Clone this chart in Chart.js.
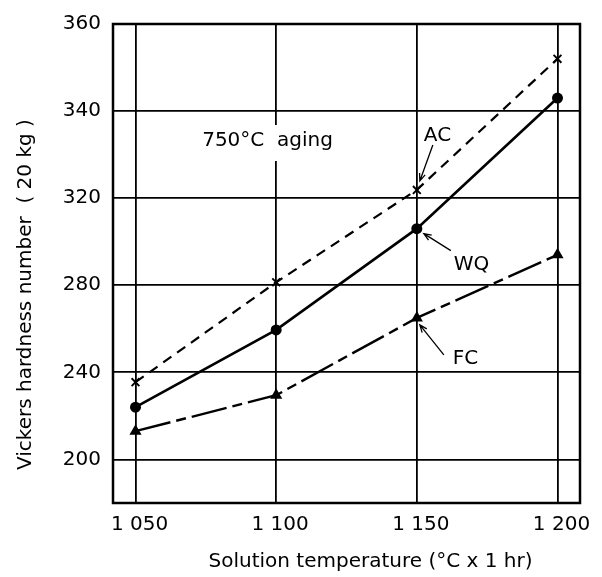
<!DOCTYPE html>
<html>
<head>
<meta charset="utf-8">
<script src="https://cdn.jsdelivr.net/npm/chart.js@4/dist/chart.umd.min.js"></script>
<style>
html,body{margin:0;padding:0;background:#fff}
#wrap{width:602px;height:577px}
</style>
</head>
<body>
<div id="wrap"><canvas id="c" width="602" height="577"></canvas></div>
<script>
// ---- data ----
const temperatures = [1050, 1100, 1150, 1200];
const acHardness = [235.5, 281.4, 321.9, 352];
const wqHardness = [224, 259.5, 306, 343];
const fcHardness = [213, 229.5, 265, 294];

const xTickValues = [1050, 1100, 1150, 1200];
const xTickLabels = ['1 050', '1 100', '1 150', '1 200'];
const yTickValues = [200, 240, 280, 320, 340, 360];
const yTickLabels = ['200', '240', '280', '320', '340', '360'];

const seriesNames = ['AC', 'WQ', 'FC'];
const xTitle = 'Solution temperature (°C x 1 hr)';
const yTitle = 'Vickers hardness number  ( 20 kg )';
const noteText = '750°C  aging';

// The printed axis doubles the spacing per unit above 320 (320 -> 340 -> 360)
const BREAK = 320, STRETCH = 2;
const toLin = v => v <= BREAK ? v : BREAK + (v - BREAK) * STRETCH;
const fromLin = l => l <= BREAK ? l : BREAK + (l - BREAK) / STRETCH;

class SplitLinearScale extends Chart.LinearScale {
  determineDataLimits() {
    this.min = toLin(this.options.min);
    this.max = toLin(this.options.max);
  }
  buildTicks() { return yTickValues.map(v => ({ value: v })); }
  getPixelForValue(v) {
    if (v === null || v === undefined || isNaN(v)) return NaN;
    return super.getPixelForValue(toLin(v));
  }
  getValueForPixel(p) { return fromLin(super.getValueForPixel(p)); }
}
SplitLinearScale.id = 'splitLinear';
SplitLinearScale.defaults = {};
Chart.register(SplitLinearScale);

const FONT = '"DejaVu Sans", "Liberation Sans", sans-serif';

function arrow(ctx, x1, y1, x2, y2) {
  const a = Math.atan2(y2 - y1, x2 - x1), L = 8, w = 0.38;
  ctx.beginPath();
  ctx.moveTo(x1, y1); ctx.lineTo(x2, y2);
  ctx.moveTo(x2 - L * Math.cos(a - w), y2 - L * Math.sin(a - w));
  ctx.lineTo(x2, y2);
  ctx.lineTo(x2 - L * Math.cos(a + w), y2 - L * Math.sin(a + w));
  ctx.stroke();
}

const decor = {
  id: 'decor',
  beforeDatasetsDraw(chart) {
    const {ctx, scales: {x}, chartArea: ca} = chart;
    ctx.save();
    ctx.font = '20px ' + FONT;
    const gx = x.getPixelForValue(1100);
    const tx = gx - 74, ty = ca.top + 117;
    const w = ctx.measureText(noteText).width;
    ctx.fillStyle = '#fff';
    ctx.fillRect(tx - 2, ty - 16, w + 4, 36);
    ctx.fillStyle = '#000';
    ctx.textBaseline = 'middle';
    ctx.textAlign = 'left';
    ctx.fillText(noteText, tx, ty);
    ctx.restore();
  },
  afterDraw(chart) {
    const {ctx, scales: {x, y}, chartArea: ca} = chart;
    ctx.save();
    // frame
    ctx.strokeStyle = '#000';
    ctx.lineWidth = 2.5;
    ctx.strokeRect(ca.left, ca.top, ca.right - ca.left, ca.bottom - ca.top);
    // axis titles
    ctx.fillStyle = '#000';
    ctx.font = '20px ' + FONT;
    ctx.textBaseline = 'middle';
    ctx.textAlign = 'center';
    ctx.fillText(xTitle, (ca.left + ca.right) / 2 + 24, ca.bottom + 59);
    ctx.save();
    ctx.translate(26, ca.bottom - 33);
    ctx.rotate(-Math.PI / 2);
    ctx.textAlign = 'left';
    ctx.fillText(yTitle, 0, 0);
    ctx.restore();
    // series labels with arrows, anchored on the 1150 points
    const px = x.getPixelForValue(1150);
    const pAC = y.getPixelForValue(acHardness[2]);
    const pWQ = y.getPixelForValue(wqHardness[2]);
    const pFC = y.getPixelForValue(fcHardness[2]);
    ctx.textAlign = 'left';
    ctx.fillText(seriesNames[0], px + 7, pAC - 54);
    ctx.fillText(seriesNames[1], px + 37, pWQ + 36);
    ctx.fillText(seriesNames[2], px + 36, pFC + 41);
    ctx.lineWidth = 1.3;
    arrow(ctx, px + 16, pAC - 45, px + 3, pAC - 9);
    arrow(ctx, px + 34, pWQ + 22, px + 7, pWQ + 5);
    arrow(ctx, px + 27, pFC + 37, px + 3, pFC + 7);
    ctx.restore();
  }
};

const pts = arr => temperatures.map((t, i) => ({ x: t, y: arr[i] }));

new Chart(document.getElementById('c'), {
  type: 'line',
  data: {
    datasets: [
      { label: seriesNames[0], data: pts(acHardness), borderColor: '#000', borderWidth: 2.2,
        borderDash: [10, 7], pointStyle: 'crossRot', pointRadius: 5.5, pointBorderWidth: 1.9,
        pointBorderColor: '#000', pointBackgroundColor: '#000', tension: 0 },
      { label: seriesNames[1], data: pts(wqHardness), borderColor: '#000', borderWidth: 2.6,
        pointStyle: 'circle', pointRadius: 5.5, pointBorderWidth: 0,
        pointBackgroundColor: '#000', tension: 0 },
      { label: seriesNames[2], data: pts(fcHardness), borderColor: '#000', borderWidth: 2.4,
        borderDash: [36, 6, 10, 6], pointStyle: 'triangle', pointRadius: 7, pointBorderWidth: 0,
        pointBackgroundColor: '#000', tension: 0 }
    ]
  },
  options: {
    responsive: false,
    animation: false,
    devicePixelRatio: 1,
    layout: { padding: { left: 0, right: 22, top: 16, bottom: 0 } },
    plugins: { legend: { display: false }, tooltip: { enabled: false } },
    scales: {
      x: {
        type: 'linear', min: 1042, max: 1208,
        afterBuildTicks: s => { s.ticks = xTickValues.map(v => ({ value: v })); },
        afterFit: s => { s.height = 74; },
        ticks: {
          callback: v => xTickLabels[xTickValues.indexOf(v)],
          font: { family: FONT, size: 20 }, color: '#000', padding: 10,
          labelOffset: 4, maxRotation: 0, autoSkip: false
        },
        grid: { color: '#000', lineWidth: 1.8, drawTicks: false },
        border: { display: false }
      },
      y: {
        type: 'splitLinear', min: 180, max: 360,
        afterFit: s => { s.width = 113; },
        ticks: {
          callback: v => yTickLabels[yTickValues.indexOf(v)],
          font: { family: FONT, size: 20 }, color: '#000', padding: 12, autoSkip: false
        },
        grid: { color: '#000', lineWidth: 1.8, drawTicks: false },
        border: { display: false }
      }
    }
  },
  plugins: [decor]
});
</script>
</body>
</html>
